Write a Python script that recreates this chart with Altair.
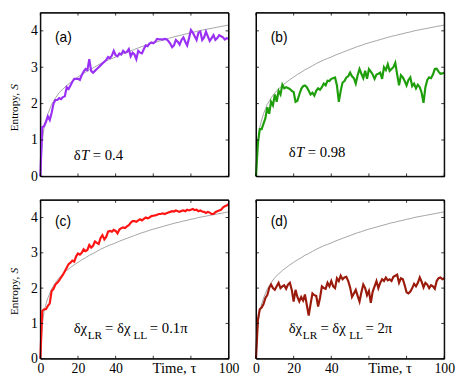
import altair as alt
import pandas as pd

# ---------------- data ----------------
tau = list(range(0, 101))

entropy_a = [0, 1.35, 1.38, 1.5, 1.65, 1.55, 1.75, 2.0, 2.1, 2.1,
             2.15, 2.12, 2.18, 2.2, 2.45, 2.4, 2.5, 2.6, 2.68, 2.68,
             2.68, 2.65, 2.78, 2.88, 2.95, 2.92, 3.22, 2.9, 2.85, 2.9,
             2.95, 3.0, 3.05, 3.1, 3.15, 3.2, 3.28, 3.25, 3.32, 3.45,
             3.33, 3.3, 3.38, 3.35, 3.45, 3.4, 3.42, 3.5, 3.3, 3.4,
             3.35, 3.22, 3.45, 3.4, 3.38, 3.5, 3.6, 3.58, 3.65, 3.68,
             3.66, 3.7, 3.78, 3.77, 3.77, 3.76, 3.78, 3.77, 3.72, 3.65,
             3.55, 3.6, 3.75, 3.7, 3.62, 3.75, 3.82, 3.7, 3.6, 3.8,
             4.02, 3.95, 3.85, 3.75, 3.95, 3.98, 3.75, 3.82, 3.98, 3.85,
             3.72, 3.8, 3.88, 3.75, 3.8, 3.88, 3.85, 3.82, 3.76, 3.8,
             3.78]

entropy_b = [0, 0.9, 1.3, 1.3, 1.45, 1.6, 1.9, 1.72, 2.05, 1.95,
             2.25, 2.05, 2.35, 2.25, 2.52, 2.42, 2.45, 2.43, 2.4, 2.35,
             2.32, 2.05, 2.08, 2.25, 2.4, 2.48, 2.5, 2.45, 2.35, 2.25,
             2.3, 2.22, 2.35, 2.42, 2.38, 2.45, 2.55, 2.5, 2.63, 2.62,
             2.68, 2.7, 2.72, 2.5, 2.05, 2.35, 2.58, 2.62, 2.72, 2.75,
             2.85, 2.75, 2.7, 2.55, 2.78, 2.95, 2.82, 2.7, 2.9, 2.68,
             2.95, 2.88, 2.8, 2.68, 2.8, 2.82, 2.85, 2.68, 3.0, 2.92,
             3.08, 2.9, 2.95, 3.0, 3.12, 2.8, 2.5, 2.78, 2.72, 2.62,
             2.5, 2.65, 2.72, 2.48, 2.55, 2.42, 2.52, 2.45, 2.3, 2.02,
             2.45, 2.65, 2.72, 2.7, 2.8, 2.95, 2.96, 2.88, 2.82, 2.83,
             2.85]

entropy_c = [0, 1.35, 1.4, 1.4, 1.5, 1.57, 1.92, 1.98, 2.1, 2.15,
             2.22, 2.3, 2.38, 2.48, 2.58, 2.68, 2.72, 2.78, 2.75, 2.9,
             2.98, 2.95, 3.0, 3.1, 3.05, 3.08, 3.22, 3.15, 3.2, 3.32,
             3.28, 3.25, 3.42, 3.5, 3.38, 3.45, 3.6, 3.62, 3.6, 3.65,
             3.62, 3.55, 3.66, 3.7, 3.72, 3.7, 3.75, 3.78, 3.85, 3.9,
             3.9, 3.88, 3.92, 3.95, 3.92, 3.96, 4.0, 3.98, 4.0, 4.04,
             4.05, 4.06, 4.08, 4.1, 4.1, 4.12, 4.1, 4.12, 4.14, 4.16,
             4.18, 4.17, 4.2, 4.18, 4.16, 4.19, 4.2, 4.18, 4.22, 4.2,
             4.22, 4.24, 4.21, 4.22, 4.18, 4.2, 4.17, 4.16, 4.13, 4.16,
             4.14, 4.1, 4.1, 4.15, 4.18, 4.2, 4.22, 4.28, 4.32, 4.34,
             4.38]

entropy_d = [0, 1.1, 1.4, 1.45, 1.55, 1.72, 1.8, 2.0, 2.1, 2.0,
             1.95, 2.05, 2.15, 2.0, 2.05, 2.08, 1.98, 2.1, 2.15, 1.95,
             1.62, 1.95, 1.75, 1.62, 1.75, 1.65, 1.82, 1.52, 1.22, 1.55,
             1.85, 1.8, 1.78, 1.48, 1.72, 2.05, 2.0, 1.98, 2.15, 2.05,
             2.2, 2.05, 2.0, 2.28, 2.2, 2.35, 2.25, 2.3, 2.32, 2.2,
             2.02, 1.75, 1.85, 1.95, 1.78, 1.62, 1.88, 2.1, 2.0, 1.8,
             1.92, 1.58, 1.9, 2.05, 2.2, 2.0, 2.15, 2.25, 2.2, 2.3,
             2.22, 2.25, 2.2, 2.32, 2.35, 2.38, 2.15, 2.28, 2.25, 2.08,
             1.88, 1.85, 1.9, 2.0, 2.12, 2.05, 2.15, 2.3, 2.18, 2.02,
             2.15, 2.1, 2.0, 2.08, 2.05, 1.98, 2.2, 2.28, 2.3, 2.25,
             2.28]

ref_tau = [0, 1, 2, 3, 4, 6, 8, 10, 12, 14, 16, 18, 20, 22, 24, 26, 28, 30,
           32, 34, 36, 38, 40, 42, 44, 46, 48, 50, 52, 54, 56, 58, 60, 62,
           64, 66, 68, 70, 72, 74, 76, 78, 80, 82, 84, 86, 88, 90, 92, 94,
           96, 98, 100]
ref_entropy = [0, 0.95, 1.35, 1.55, 1.72, 1.98, 2.15, 2.3, 2.4, 2.5, 2.58,
               2.66, 2.73, 2.8, 2.86, 2.93, 2.98, 3.04, 3.1, 3.15, 3.2, 3.24,
               3.28, 3.33, 3.37, 3.41, 3.45, 3.49, 3.53, 3.57, 3.6, 3.64,
               3.67, 3.7, 3.73, 3.76, 3.79, 3.82, 3.85, 3.87, 3.9, 3.92,
               3.95, 3.97, 4.0, 4.02, 4.04, 4.06, 4.08, 4.1, 4.12, 4.14, 4.16]

panel_labels = ["(a)", "(b)", "(c)", "(d)"]
series_colors = ["#9b30f5", "#1f9e0c", "#ff1414", "#9a1a0c"]
x_label_values = [0, 20, 40, 100]
x_tick_values = [0, 20, 40, 60, 80, 100]
y_tick_values = [0, 1, 2, 3, 4]
x_title = "Time, τ"
y_title_parts = ["Entropy,", "S"]

W = 192
HEIGHTS = [167, 167, 162, 162]
SERIF = "Liberation Serif"
SANS = "Liberation Sans"

# annotation pieces: (text, italic?, font size, x from plot left, y above plot bottom)
annotations = [
    [("δ", False, 15, 34, 16.7), ("T", True, 15, 41.5, 16.7), ("= 0.4", False, 15, 53.5, 16.7)],
    [("δ", False, 15, 33.3, 19.3), ("T", True, 15, 40.8, 19.3), ("= 0.98", False, 15, 52.8, 19.3)],
    [("δχ", False, 15, 34, 26.3), ("LR", False, 11.5, 48.3, 19.7),
     ("= δχ", False, 15, 66, 26.3), ("LL", False, 11.5, 95, 19.7),
     ("= 0.1π", False, 15, 111.7, 26.3)],
    [("δχ", False, 15, 33.3, 26.3), ("LR", False, 11.5, 47.7, 19.7),
     ("= δχ", False, 15, 65.7, 26.3), ("LL", False, 11.5, 95, 19.7),
     ("= 2π", False, 15, 111.7, 26.3)],
]

ref_df = pd.DataFrame({"tau": ref_tau, "S": ref_entropy})
xtick_df = pd.DataFrame({"tau": x_tick_values})
ytick_df = pd.DataFrame({"S": y_tick_values})
one_df = pd.DataFrame({"k": [0]})
xs = alt.Scale(domain=[0, 100], nice=False, zero=False)
ys = alt.Scale(domain=[0, 4.5], nice=False, zero=False)
TICK = 3


def text_piece(text, x, y, size, font=SERIF, italic=False, angle=0):
    kw = dict(text=text, font=font, fontSize=size, align="left",
              baseline="alphabetic", color="black")
    if italic:
        kw["fontStyle"] = "italic"
    if angle:
        kw["angle"] = angle
    return alt.Chart(one_df).mark_text(**kw).encode(x=alt.value(x), y=alt.value(y))


def make_panel(i, series):
    row, col = divmod(i, 2)
    bottom = row == 1
    left = col == 0
    H = HEIGHTS[i]
    df = pd.DataFrame({"tau": tau, "S": series})

    xkw = dict(orient="bottom", values=x_label_values, labels=bottom,
               ticks=False, domain=False, grid=False, labelFont=SERIF,
               labelFontSize=14, labelPadding=3, labelColor="black",
               labelFlush=False)
    if bottom:
        xkw.update(title=x_title, titleFont=SERIF, titleFontSize=15,
                   titleFontWeight="normal", titleColor="black",
                   titleAlign="left", titleBaseline="alphabetic",
                   titleX=114, titleY=14)
    else:
        xkw.update(title=None)
    x_main = alt.Axis(**xkw)
    y_main = alt.Axis(orient="left", values=y_tick_values, labels=left,
                      ticks=False, domain=False, grid=False, labelFont=SERIF,
                      labelFontSize=14, labelPadding=3, labelColor="black",
                      labelFlush=False, title=None)

    gray = alt.Chart(ref_df).mark_line(color="#8c8c8c", strokeWidth=0.8).encode(
        x=alt.X("tau:Q", scale=xs, axis=x_main),
        y=alt.Y("S:Q", scale=ys, axis=y_main),
    )
    colored = alt.Chart(df).mark_line(color=series_colors[i], strokeWidth=2.2).encode(
        x=alt.X("tau:Q", scale=xs, axis=x_main),
        y=alt.Y("S:Q", scale=ys, axis=y_main),
    )

    # inward ticks on all four sides, placed through the shared scales
    xt_bottom = alt.Chart(xtick_df).mark_rule(color="black", strokeWidth=0.8).encode(
        x=alt.X("tau:Q", scale=xs, axis=x_main), y=alt.value(H), y2=alt.value(H - TICK))
    xt_top = alt.Chart(xtick_df).mark_rule(color="black", strokeWidth=0.8).encode(
        x=alt.X("tau:Q", scale=xs, axis=x_main), y=alt.value(0), y2=alt.value(TICK))
    yt_left = alt.Chart(ytick_df).mark_rule(color="black", strokeWidth=0.8).encode(
        y=alt.Y("S:Q", scale=ys, axis=y_main), x=alt.value(0), x2=alt.value(TICK))
    yt_right = alt.Chart(ytick_df).mark_rule(color="black", strokeWidth=0.8).encode(
        y=alt.Y("S:Q", scale=ys, axis=y_main), x=alt.value(W - TICK), x2=alt.value(W))

    frame = alt.Chart(one_df).mark_rect(fillOpacity=0, stroke="black", strokeWidth=1).encode(
        x=alt.value(0), x2=alt.value(W), y=alt.value(0), y2=alt.value(H))

    layers = [gray, colored, xt_bottom, xt_top, yt_left, yt_right, frame,
              text_piece(panel_labels[i], 15, 30 if not bottom else 27, 14, font=SANS)]
    for (t, it, fs, px, py) in annotations[i]:
        layers.append(text_piece(t, px, H - py, fs, italic=it))

    if left:
        ty = round(H * 0.725, 1)
        layers.append(text_piece(y_title_parts[0], -23, ty, 11.5, angle=270))
        layers.append(text_piece(y_title_parts[1], -23, ty - 42.5, 11.5, italic=True, angle=270))

    return alt.layer(*layers).properties(width=W, height=H)


panels = [make_panel(i, s) for i, s in enumerate([entropy_a, entropy_b, entropy_c, entropy_d])]

chart = alt.concat(*panels, columns=2, spacing={"row": 15, "column": 12}).properties(
    padding={"left": 0, "top": 0, "right": 0, "bottom": 0}
).configure_view(stroke="black", strokeWidth=1)

chart.save("out.html", embed_options={"renderer": "svg", "actions": False})
